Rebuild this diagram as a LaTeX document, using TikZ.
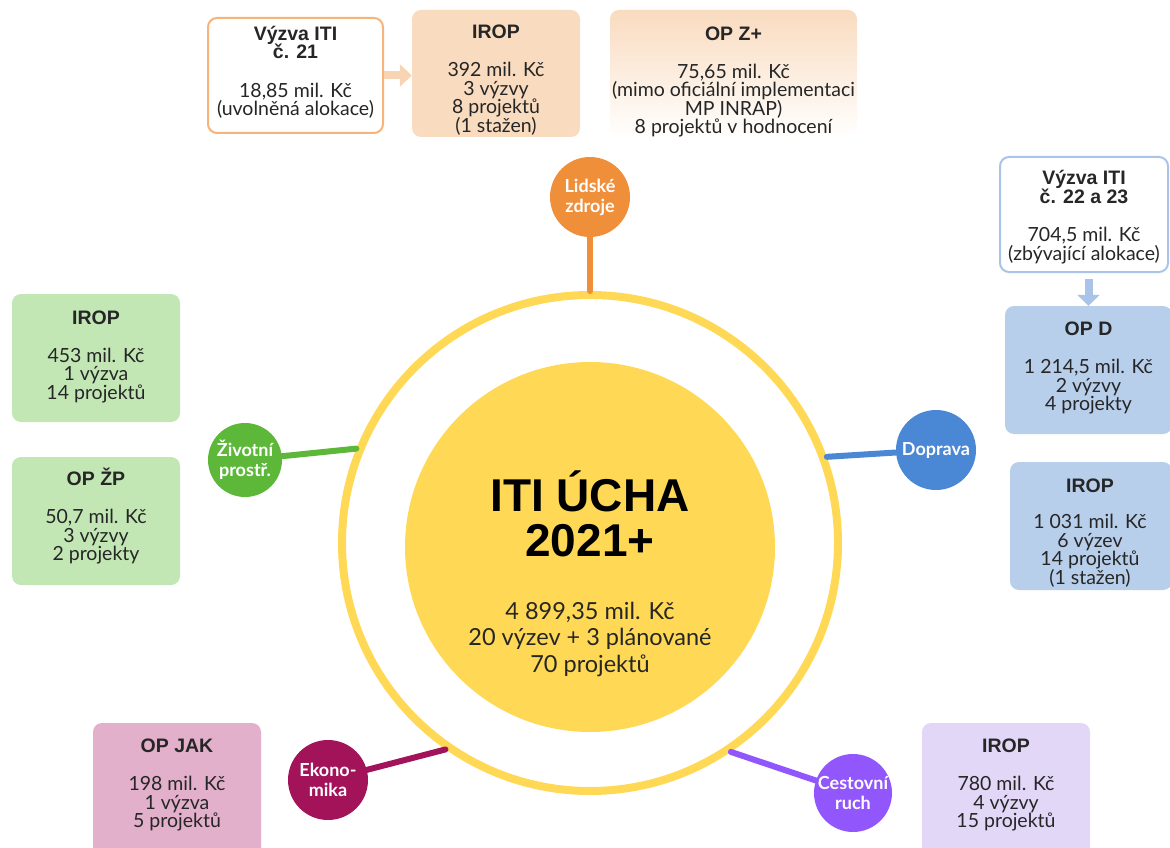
\documentclass[tikz,border=0pt]{standalone}
\usepackage{fontspec}
\setmainfont{Lato}
\newfontfamily\headfont{Liberation Sans}
\usetikzlibrary{arrows.meta}

\definecolor{ringyellow}{HTML}{FFD955}
\definecolor{textgray}{HTML}{262626}
\definecolor{hrorange}{HTML}{EF8F3A}
\definecolor{hrlight}{HTML}{F9DBBF}
\definecolor{hrline}{HTML}{F4B47A}
\definecolor{hrarrow}{HTML}{F9D4B4}
\definecolor{envgreen}{HTML}{5DB83A}
\definecolor{envlight}{HTML}{C2E7B5}
\definecolor{trblue}{HTML}{4A87D5}
\definecolor{trlight}{HTML}{B8CFEB}
\definecolor{trline}{HTML}{A9C4E8}
\definecolor{ecored}{HTML}{A2135A}
\definecolor{ecolight}{HTML}{E2B0CA}
\definecolor{tourpurple}{HTML}{9256FD}
\definecolor{tourlight}{HTML}{E3D7F8}

\newcommand{\boxhead}[1]{{\headfont\bfseries\fontsize{19.5}{18.5}\selectfont #1}}
\newcommand{\tightlines}{\lineskiplimit=-20pt\relax}

\tikzset{
  box/.style={rounded corners=9pt, inner sep=0pt},
  boxtext/.style={align=center, inner sep=0pt, text=textgray,
    font=\fontsize{19.5}{18.5}\selectfont\tightlines},
  dot/.style={circle, inner sep=0pt, minimum size=#1, text=white, align=center,
    font=\fontsize{18}{20}\selectfont\bfseries\tightlines},
  spoke/.style={line width=6pt, line cap=round},
  flow/.style={line width=8pt, -{Triangle[width=22pt,length=12pt]}},
}

\begin{document}
\begin{tikzpicture}[x=1pt, y=-1pt]
  \useasboundingbox (0,0) rectangle (1170,848);

  % centre
  \node [circle, draw=ringyellow, line width=8pt, minimum size=496pt, inner sep=0pt] (ring) at (590,543) {};
  \node [circle, fill=ringyellow, minimum size=370pt, inner sep=0pt] (core) at (590,547) {};
  \node [align=center, text=black, font=\headfont\bfseries\fontsize{46}{45}\selectfont] (title) at (590,514) {ITI ÚCHA\\2021+};
  \node [align=center, text=textgray, font=\fontsize{23.5}{26.5}\selectfont] (total) at (590,639) {4 899,35 mil. Kč\\20 výzev + 3 plánované\\70 projektů};

  % lidske zdroje
  \node [dot=80pt, fill=hrorange] (hr) at (590,197) {Lidské\\zdroje};
  \draw [spoke, hrorange] (hr) -- (ring.90);

  \node [box, draw=hrline, line width=2pt, fill=white, minimum width=175pt, minimum height=115pt] (call21) at (295.5,75.5) {};
  \node [boxtext] (call21txt) at (295.5,72.5) {\boxhead{Výzva ITI}\\\boxhead{č. 21}\\[20pt]18,85 mil. Kč\\(uvolněná alokace)};
  \node [box, fill=hrlight, minimum width=168pt, minimum height=127pt] (hrirop) at (496,73.5) {};
  \node [boxtext] (hriroptxt) at (496,80) {\boxhead{IROP}\\[19.5pt]392 mil. Kč\\3 výzvy\\8 projektů\\(1 stažen)};
  \node [box, top color=hrlight, bottom color=white, minimum width=247pt, minimum height=127pt] (hropz) at (733.5,73.5) {};
  \node [boxtext] (hropztxt) at (733.5,82) {\boxhead{OP Z+}\\[19.5pt]75,65 mil. Kč\\(mimo oficiální implementaci\\MP INRAP)\\8 projektů v hodnocení};
  \draw [flow, hrarrow] (call21.east) -- (call21.east -| hrirop.west);

  % zivotni prostredi
  \node [dot=74pt, fill=envgreen] (env) at (245,460) {Životní\\prostř.};
  \draw [spoke, envgreen] (env) -- (ring.158);

  \node [box, fill=envlight, minimum width=168pt, minimum height=128pt] (envirop) at (96,358) {};
  \node [boxtext] (enviroptxt) at (96,356.5) {\boxhead{IROP}\\[19.5pt]453 mil. Kč\\1 výzva\\14 projektů};
  \node [box, fill=envlight, minimum width=168pt, minimum height=128pt] (envopzp) at (96,521) {};
  \node [boxtext] (envopzptxt) at (96,516.5) {\boxhead{OP ŽP}\\[19.5pt]50,7 mil. Kč\\3 výzvy\\2 projekty};

  % doprava
  \node [dot=80pt, fill=trblue] (tr) at (936,450) {Doprava};
  \draw [spoke, trblue] (tr) -- (ring.20);

  \node [box, draw=trline, line width=2pt, fill=white, minimum width=168pt, minimum height=115pt] (call22) at (1084,214.5) {};
  \node [boxtext] (call22txt) at (1084,217) {\boxhead{Výzva ITI}\\\boxhead{č. 22 a 23}\\[20pt]704,5 mil. Kč\\(zbývající alokace)};
  \node [box, fill=trlight, minimum width=167pt, minimum height=128pt] (tropd) at (1088.5,370) {};
  \node [boxtext] (tropdtxt) at (1088.5,368) {\boxhead{OP D}\\[19.5pt]1 214,5 mil. Kč\\2 výzvy\\4 projekty};
  \node [box, fill=trlight, minimum width=162pt, minimum height=128pt] (trirop) at (1091,526) {};
  \node [boxtext] (triroptxt) at (1090,533) {\boxhead{IROP}\\[17.5pt]1 031 mil. Kč\\6 výzev\\14 projektů\\(1 stažen)};
  \draw [flow, trline, shorten <=6pt, -{Triangle[width=22pt,length=11pt]}] (tropd.north |- call22.south) -- (tropd.north);

  % ekonomika
  \node [dot=80pt, fill=ecored] (eco) at (328,780) {Ekono-\\mika};
  \draw [spoke, ecored] (eco) -- (ring.235);

  \node [box, fill=ecolight, minimum width=168pt, minimum height=135pt] (ecojak) at (177,790.5) {};
  \node [boxtext] (ecojaktxt) at (177,785) {\boxhead{OP JAK}\\[19.5pt]198 mil. Kč\\1 výzva\\5 projektů};

  % cestovni ruch
  \node [dot=78pt, fill=tourpurple] (tour) at (853,793) {Cestovní\\ruch};
  \draw [spoke, tourpurple] (tour) -- (ring.304);

  \node [box, fill=tourlight, minimum width=168pt, minimum height=135pt] (tourirop) at (1006,790.5) {};
  \node [boxtext] (touriroptxt) at (1006,785) {\boxhead{IROP}\\[19.5pt]780 mil. Kč\\4 výzvy\\15 projektů};
\end{tikzpicture}
\end{document}
